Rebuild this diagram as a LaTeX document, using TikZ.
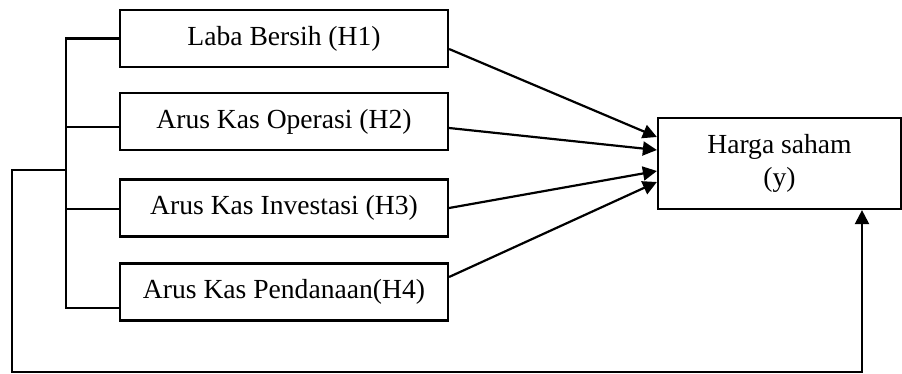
\documentclass[tikz,border=0pt]{standalone}
\usepackage{fontspec}
\setmainfont{Liberation Serif}
\usetikzlibrary{arrows.meta,calc}
\begin{document}
\begin{tikzpicture}[x=0.5pt,y=-0.5pt,
  box/.style={draw,line width=1.1pt,minimum width=164pt,minimum height=28.5pt,inner sep=0pt,
    font=\fontsize{13.8}{16.5}\selectfont},
  ybox/.style={draw,line width=1.1pt,minimum width=121.5pt,minimum height=45.5pt,inner sep=0pt,
    align=center,font=\fontsize{13.8}{16.5}\selectfont},
  conn/.style={line width=1.1pt},
  arr/.style={line width=1.1pt,-{Triangle[length=7pt,width=7pt]}}]
\useasboundingbox (0,0) rectangle (902,374);
\node[box] (b1) at (284,38.5) {Laba Bersih (H1)};
\node[box] (b2) at (284,121.5) {Arus Kas Operasi (H2)};
\node[box] (b3) at (284,208) {Arus Kas Investasi (H3)};
\node[box] (b4) at (284,292) {Arus Kas Pendanaan(H4)};
\node[ybox] (y) at (779.5,163.5) {Harga saham\\(y)};
% bracket
\coordinate (t1) at (b1.west);
\coordinate (t2) at ($(b2.west)+(0,5.5)$);
\coordinate (t3) at ($(b3.west)+(0,1)$);
\coordinate (t4) at ($(b4.west)+(0,16)$);
\coordinate (bv) at (66,0);
\draw[conn] (t1) -- (bv |- t1) -- (bv |- t4) -- (t4);
\draw[conn] (t2) -- (bv |- t2);
\draw[conn] (t3) -- (bv |- t3);
% outer loop
\coordinate (j) at (66,170);
\coordinate (c1) at (12,372);
\coordinate (c2) at (862,372);
\draw[arr] (j) -- (12,170) -- (c1) -- (c2) -- (c2 |- y.south);
% arrows to dependent variable
\draw[arr] ($(b1.east)+(0,10.5)$) -- ($(y.west)+(0,-26.5)$);
\draw[arr] ($(b2.east)+(0,6.5)$) -- ($(y.west)+(0,-13.5)$);
\draw[arr] ($(b3.east)+(0,0)$) -- ($(y.west)+(0,7.5)$);
\draw[arr] ($(b4.east)+(0,-15)$) -- ($(y.west)+(0,18.5)$);
\end{tikzpicture}
\end{document}
